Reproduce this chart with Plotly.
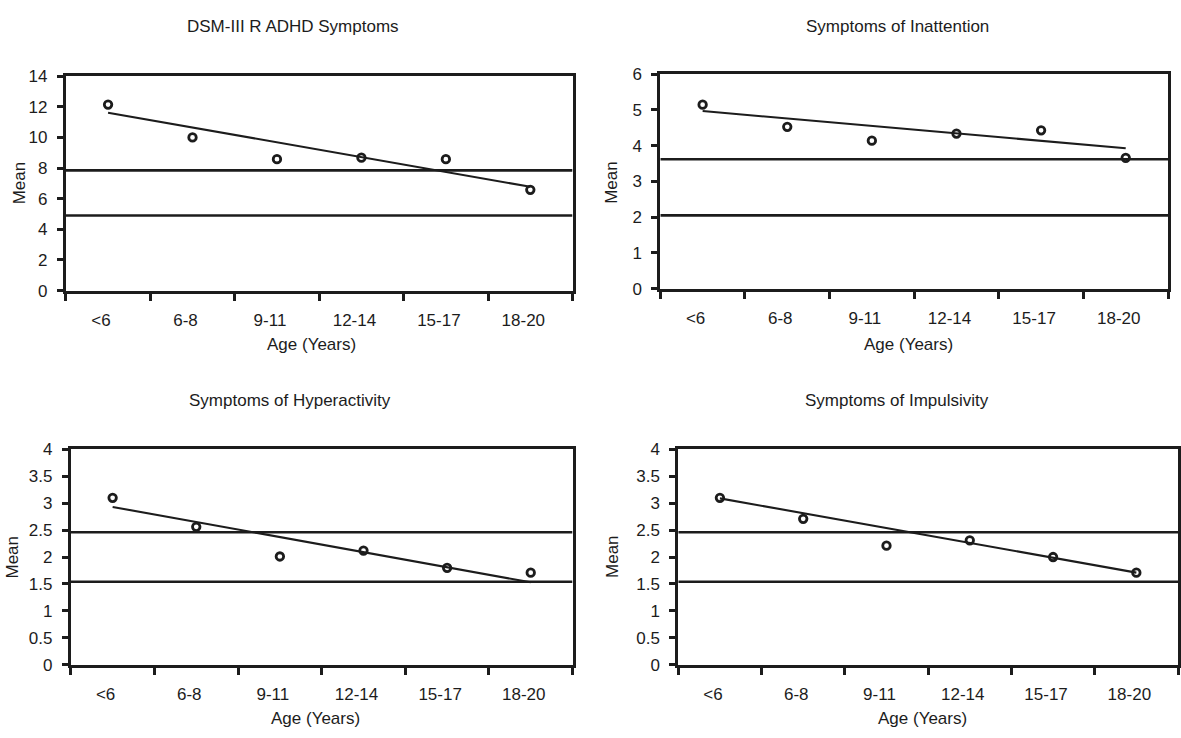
import plotly.graph_objects as go

# ---------------- data ----------------
categories = ["<6", "6-8", "9-11", "12-14", "15-17", "18-20"]

titles = ["DSM-III R ADHD Symptoms", "Symptoms of Inattention",
          "Symptoms of Hyperactivity", "Symptoms of Impulsivity"]

dsm_means = [12.15, 10.0, 8.58, 8.68, 8.58, 6.58]
inatt_means = [5.15, 4.53, 4.14, 4.34, 4.43, 3.66]
hyper_means = [3.10, 2.56, 2.01, 2.12, 1.80, 1.71]
impuls_means = [3.10, 2.71, 2.21, 2.31, 2.00, 1.71]

# reference (norm) lines
dsm_ref = [7.85, 4.90]
inatt_ref = [3.62, 2.05]
hyper_ref = [2.46, 1.54]
impuls_ref = [2.46, 1.54]

# trend line values at first and last age group
dsm_trend = [11.62, 6.78]
inatt_trend = [4.97, 3.93]
hyper_trend = [2.93, 1.53]
impuls_trend = [3.09, 1.71]

y_max = [14, 6, 4, 4]
y_step = [2, 1, 0.5, 0.5]

# ---------------- layout geometry (pixels) ----------------
W, H = 1181, 738
boxes = [  # left, right, top, bottom
    (66, 574, 69, 289),
    (662, 1171, 67, 287),
    (71, 574, 452, 673),
    (680, 1181, 452, 673),
]
title_pos = [(294, 18), (900, 18), (291, 402), (899, 402)]
xtitle_pos = [(312, 344), (911, 344), (316, 728), (925, 728)]
ytitle_pos = [(19, 178), (613, 178), (13, 562), (614, 562)]

INK = "#1c1c1c"
FONT = "Liberation Sans, Arial, Helvetica, sans-serif"
FS = 17
FS_TITLE = 17

means = [dsm_means, inatt_means, hyper_means, impuls_means]
refs = [dsm_ref, inatt_ref, hyper_ref, impuls_ref]
trends = [dsm_trend, inatt_trend, hyper_trend, impuls_trend]

xpos = list(range(1, len(categories) + 1))
bounds = [i + 0.5 for i in range(0, len(categories) + 1)]

fig = go.Figure()
layout = dict(
    width=W, height=H,
    margin=dict(l=0, r=0, t=0, b=0),
    paper_bgcolor="white", plot_bgcolor="white",
    showlegend=False,
    font=dict(family=FONT, size=FS, color=INK),
)
annotations = []

for i in range(4):
    n = "" if i == 0 else str(i + 1)
    xa, ya = "x" + n, "y" + n
    l, r, t, b = boxes[i]

    # reference lines
    for v in refs[i]:
        fig.add_trace(go.Scatter(
            x=[bounds[0], bounds[-1]], y=[v, v], mode="lines",
            line=dict(color=INK, width=2.6), xaxis=xa, yaxis=ya,
            hoverinfo="skip"))
    # trend line
    fig.add_trace(go.Scatter(
        x=[xpos[0], xpos[-1]], y=trends[i], mode="lines",
        line=dict(color=INK, width=2.1), xaxis=xa, yaxis=ya,
        hoverinfo="skip"))
    # means
    fig.add_trace(go.Scatter(
        x=xpos, y=means[i], mode="markers",
        marker=dict(symbol="circle-open", size=7.5,
                    line=dict(color=INK, width=2.8), color=INK),
        xaxis=xa, yaxis=ya, cliponaxis=False,
        text=categories, hovertemplate="%{text}: %{y}<extra></extra>"))

    layout["xaxis" + n] = dict(
        domain=[l / W, r / W], anchor=ya,
        range=[bounds[0], bounds[-1]],
        tickmode="array", tickvals=xpos, ticktext=categories,
        ticks="", ticklabelstandoff=12, ticklabelshift=-7,
        minor=dict(tickmode="array", tickvals=bounds, ticks="outside",
                   ticklen=7, tickwidth=2.5, tickcolor=INK, showgrid=False),
        showline=True, linecolor=INK, linewidth=3, mirror=True,
        showgrid=False, zeroline=False, fixedrange=True,
        tickfont=dict(family=FONT, size=FS, color=INK),
    )
    layout["yaxis" + n] = dict(
        domain=[1 - b / H, 1 - t / H], anchor=xa,
        range=[0, y_max[i]], dtick=y_step[i], tick0=0,
        ticks="outside", ticklen=6, tickwidth=2.5, tickcolor=INK,
        ticklabelstandoff=6,
        showline=True, linecolor=INK, linewidth=3, mirror=True,
        showgrid=False, zeroline=False, fixedrange=True,
        tickfont=dict(family=FONT, size=FS, color=INK),
    )

    annotations.append(dict(
        text=titles[i], x=title_pos[i][0] / W, y=1 - title_pos[i][1] / H,
        xref="paper", yref="paper", xanchor="center", yanchor="middle",
        showarrow=False, font=dict(family=FONT, size=FS_TITLE, color=INK)))
    annotations.append(dict(
        text="Age (Years)", x=xtitle_pos[i][0] / W, y=1 - xtitle_pos[i][1] / H,
        xref="paper", yref="paper", xanchor="center", yanchor="middle",
        showarrow=False, font=dict(family=FONT, size=FS, color=INK)))
    annotations.append(dict(
        text="Mean", x=ytitle_pos[i][0] / W, y=1 - ytitle_pos[i][1] / H,
        xref="paper", yref="paper", xanchor="center", yanchor="middle",
        textangle=-90, showarrow=False,
        font=dict(family=FONT, size=FS, color=INK)))

layout["annotations"] = annotations
fig.update_layout(**layout)
fig.write_html(
    "out.html",
    config={"displayModeBar": False},
    post_script="document.body.style.margin='0px';"
                "document.body.style.overflow='hidden';",
)
